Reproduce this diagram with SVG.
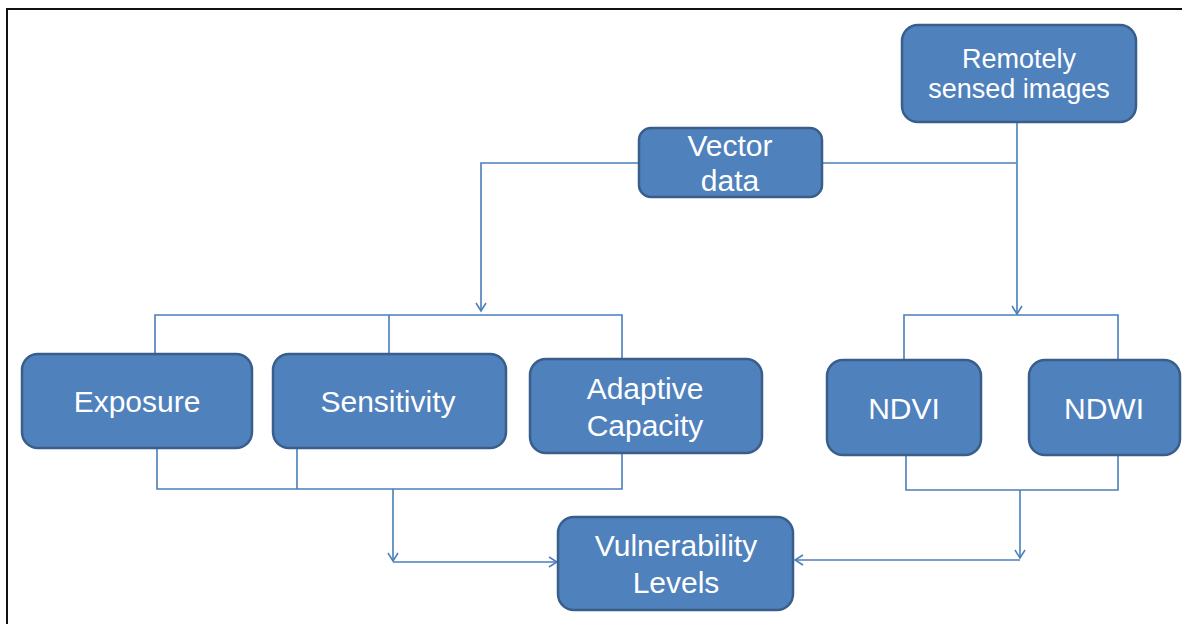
<svg xmlns="http://www.w3.org/2000/svg" width="1182" height="624" viewBox="0 0 1182 624">
<defs>
<marker id="arr" markerWidth="12" markerHeight="12" refX="9" refY="6" orient="auto" markerUnits="userSpaceOnUse">
<path d="M1,1 L9,6 L1,11" fill="none" stroke="#4A7EBB" stroke-width="1.5"/>
</marker>
</defs>
<style>
.box{fill:#4F81BD;stroke:#3A5E8C;stroke-width:2.5}
.t{fill:#FFFFFF;font-family:"Liberation Sans",Arial,sans-serif;font-size:30px;text-anchor:middle}
.ts{font-size:27px}
.c{fill:none;stroke:#4A7EBB;stroke-width:1.6}
</style>
<rect x="0" y="0" width="1182" height="624" fill="#FFFFFF"/>
<path d="M7,624 L7,9 L1182,9" fill="none" stroke="#111111" stroke-width="2"/>
<g id="connectors">
<path class="c" d="M639,163 L481,163 L481,311" marker-end="url(#arr)"/>
<path class="c" d="M822,163 L1016,163"/>
<path class="c" d="M1017,122 L1017,314" marker-end="url(#arr)"/>
<path class="c" d="M155,354 L155,315 L622,315 L622,359"/>
<path class="c" d="M389,315 L389,354"/>
<path class="c" d="M904,360 L904,315 L1118,315 L1118,360"/>
<path class="c" d="M157,448 L157,489 L622,489 L622,453"/>
<path class="c" d="M297,448 L297,489"/>
<path class="c" d="M393,489 L393,561" marker-end="url(#arr)"/>
<path class="c" d="M393,562 L557,562" marker-end="url(#arr)"/>
<path class="c" d="M906,455 L906,490 L1118,490 L1118,455"/>
<path class="c" d="M1020,490 L1020,558" marker-end="url(#arr)"/>
<path class="c" d="M1020,560 L795,560" marker-end="url(#arr)"/>
</g>
<g id="remote">
<rect class="box" x="902" y="25" width="234" height="97" rx="16"/>
<text class="t ts" x="1019" y="68">Remotely</text>
<text class="t ts" x="1019" y="98">sensed images</text>
</g>
<g id="vector">
<rect class="box" x="639" y="128" width="183" height="69" rx="12"/>
<text class="t" x="730" y="156">Vector</text>
<text class="t" x="730" y="191">data</text>
</g>
<g id="exposure">
<rect class="box" x="22" y="354" width="230" height="94" rx="16"/>
<text class="t" x="137" y="412">Exposure</text>
</g>
<g id="sensitivity">
<rect class="box" x="273" y="354" width="233" height="94" rx="16"/>
<text class="t" x="388" y="412">Sensitivity</text>
</g>
<g id="adaptive">
<rect class="box" x="530" y="359" width="232" height="94" rx="16"/>
<text class="t" x="645" y="399">Adaptive</text>
<text class="t" x="645" y="436">Capacity</text>
</g>
<g id="ndvi">
<rect class="box" x="827" y="360" width="154" height="95" rx="16"/>
<text class="t" x="904" y="419">NDVI</text>
</g>
<g id="ndwi">
<rect class="box" x="1029" y="360" width="151" height="95" rx="16"/>
<text class="t" x="1104" y="419">NDWI</text>
</g>
<g id="vulnerability">
<rect class="box" x="558" y="517" width="235" height="93" rx="16"/>
<text class="t" x="676" y="556">Vulnerability</text>
<text class="t" x="676" y="593">Levels</text>
</g>
</svg>
